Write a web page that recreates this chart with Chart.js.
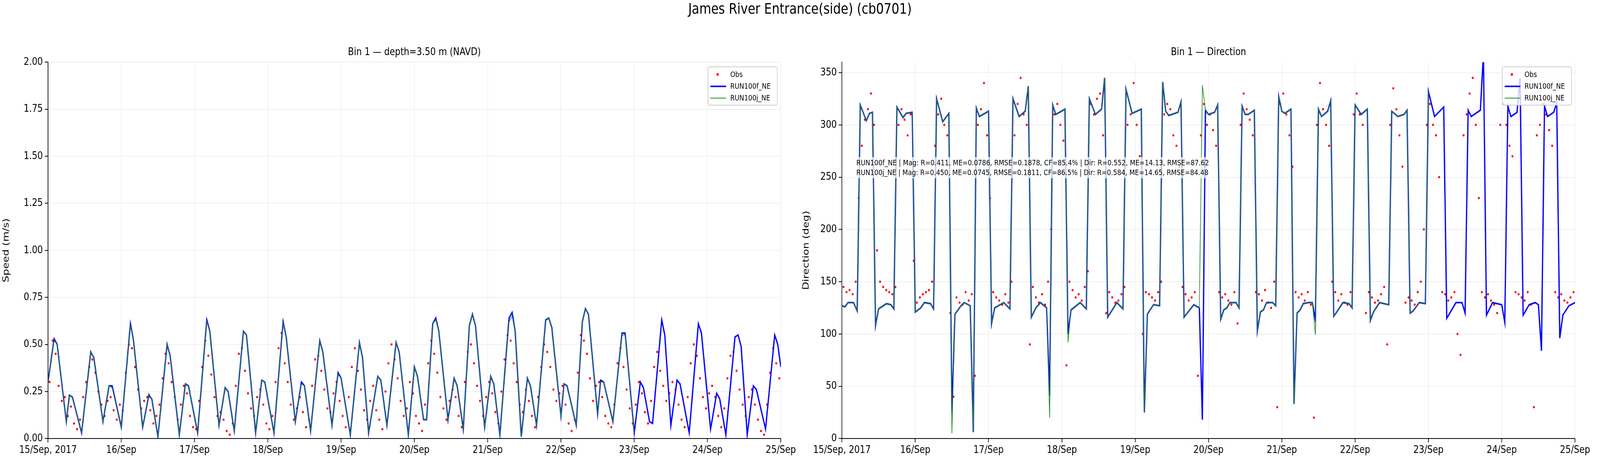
<!DOCTYPE html>
<html>
<head>
<meta charset="utf-8">
<script src="https://cdn.jsdelivr.net/npm/chart.js@4.4.0/dist/chart.umd.min.js"></script>
<style>
  html, body { margin: 0; padding: 0; overflow: hidden; background: #fff; font-family: "DejaVu Sans", sans-serif; }
  #page { position: absolute; left: 0; top: 0; width: 5000px; height: 1200px; transform-origin: 0 0; }
  canvas { position: absolute; top: 0; }
  .title { position: absolute; text-align: center; color: #000; white-space: nowrap; }
  .legend { position: absolute; width: 218px; height: 100px; border: 2px solid #ccc; border-radius: 6px; background: rgba(255,255,255,0.8); font-size: 20px; box-sizing: border-box; }
  .legend .row { position: absolute; left: 0; height: 30px; width: 100%; }
  .legend .lbl { position: absolute; left: 68px; top: 3px; }
  .stats { position: absolute; left: 2672px; top: 402px; font-size: 20px; line-height: 25px; background: rgba(255,255,255,0.7); padding: 2px 4px; white-space: pre; }
</style>
</head>
<body>
<div id="page">
<div class="title" style="left:0;width:5000px;top:0px;font-size:38px;">James River Entrance(side) (cb0701)</div>
<div class="title" style="left:150px;width:2290px;top:116px;font-size:27px;">Bin 1 — depth=3.50 m (NAVD)</div>
<div class="title" style="left:2631px;width:2291px;top:116px;font-size:27px;">Bin 1 — Direction</div>
<canvas id="speedChart" width="2500" height="1200" style="left:0"></canvas>
<canvas id="dirChart" width="2500" height="1200" style="left:2500px"></canvas>
<div class="stats">RUN100f_NE | Mag: R=0.411, ME=0.0786, RMSE=0.1878, CF=85.4% | Dir: R=0.552, ME=14.13, RMSE=87.62
RUN100j_NE | Mag: R=0.450, ME=0.0745, RMSE=0.1811, CF=86.5% | Dir: R=0.584, ME=14.65, RMSE=84.48</div>
<div class="legend" style="left:2212px;top:170px;">
  <div class="row" style="top:3px"><span style="position:absolute;left:25px;top:12px;width:7px;height:7px;border-radius:50%;background:#f00"></span><span class="lbl">Obs</span></div>
  <div class="row" style="top:33px"><span style="position:absolute;left:6px;top:14px;width:49px;height:4px;background:#00f"></span><span class="lbl">RUN100f_NE</span></div>
  <div class="row" style="top:63px"><span style="position:absolute;left:6px;top:15px;width:49px;height:2px;background:#228b22"></span><span class="lbl">RUN100j_NE</span></div>
</div>
<div class="legend" style="left:4694px;top:170px;">
  <div class="row" style="top:3px"><span style="position:absolute;left:25px;top:12px;width:7px;height:7px;border-radius:50%;background:#f00"></span><span class="lbl">Obs</span></div>
  <div class="row" style="top:33px"><span style="position:absolute;left:6px;top:14px;width:49px;height:4px;background:#00f"></span><span class="lbl">RUN100f_NE</span></div>
  <div class="row" style="top:63px"><span style="position:absolute;left:6px;top:15px;width:49px;height:2px;background:#228b22"></span><span class="lbl">RUN100j_NE</span></div>
</div>
</div>
<script>
// fit the 5000x1200 layout to the css viewport we actually get
const scaleX = window.innerWidth / 5000
const scaleY = window.innerHeight / 1200
document.getElementById('page').style.transform = `scale(${scaleX}, ${scaleY})`

// hours since 15/Sep 2017 00:00
const dayLabels = ['15/Sep, 2017', '16/Sep', '17/Sep', '18/Sep', '19/Sep', '20/Sep', '21/Sep', '22/Sep', '23/Sep', '24/Sep', '25/Sep']
const speedTicks = [0, 0.25, 0.5, 0.75, 1, 1.25, 1.5, 1.75, 2]
const dirTicks = [0, 50, 100, 150, 200, 250, 300, 350]

const speedTimes = [0,2,3,6,7,8,11,14,15,18,20,21,24,27,28,31,33,34,36,39,40,43,45,46,49,52,53,56,58,59,61,64,65,68,70,71,74,77,78,81,83,84,86,89,90,93,95,96,99,102,103,105,108,109,111,114,115,118,120,121,123,124,126,127,128,131,133,134,136,138,139,140,143,145,146,148,151,152,153,155,157,158,160,163,164,165,168,169,170,173,175,176,177,180,181,182,185,188,189,192,194,195,197,198,201,202,204,206,207,210,213,214,217,219,220,222,225,226,227,229,231,232,235,238,239,240]
const speedF = [0.30,0.53,0.50,0.09,0.23,0.22,0.03,0.46,0.43,0.09,0.28,0.28,0.06,0.61,0.52,0.06,0.23,0.21,0.01,0.50,0.44,0.02,0.29,0.28,0.03,0.63,0.57,0.07,0.27,0.25,0.04,0.57,0.55,0.03,0.31,0.30,0.03,0.62,0.54,0.09,0.30,0.28,0.04,0.52,0.46,0.07,0.35,0.32,0.02,0.51,0.43,0.03,0.33,0.31,0.07,0.51,0.46,0.02,0.38,0.33,0.10,0.10,0.61,0.64,0.57,0.10,0.32,0.28,0.05,0.60,0.66,0.60,0.06,0.33,0.29,0.02,0.64,0.67,0.57,0.01,0.32,0.28,0.07,0.63,0.64,0.59,0.12,0.29,0.28,0.07,0.62,0.69,0.66,0.13,0.31,0.30,0.09,0.56,0.56,0.03,0.30,0.27,0.09,0.08,0.63,0.55,0.07,0.31,0.29,0.03,0.61,0.56,0.05,0.24,0.21,0.02,0.54,0.55,0.49,0.02,0.28,0.26,0.05,0.55,0.50,0.38]
const speedJ = [0.30,0.52,0.50,0.09,0.23,0.22,0.03,0.46,0.43,0.09,0.28,0.27,0.06,0.60,0.52,0.06,0.24,0.21,0.01,0.50,0.44,0.02,0.29,0.28,0.03,0.62,0.57,0.07,0.27,0.25,0.04,0.57,0.55,0.03,0.31,0.30,0.03,0.61,0.54,0.09,0.29,0.28,0.04,0.52,0.46,0.07,0.34,0.32,0.02,0.51,0.43,0.03,0.33,0.31,0.07,0.51,0.46,0.02,0.38,0.33,0.10,0.10,0.61,0.63,0.57,0.10,0.32,0.28,0.05,0.60,0.66,0.60,0.06,0.33,0.29,0.02,0.62,0.65,0.57,0.01,0.32,0.28,0.07,0.63,0.64,0.59,0.12,0.29,0.28,0.07,0.62,0.69,0.66,0.13,0.30,0.30,0.09,0.55,0.55,0.03]

const dirTimes = [0,1,2,3.8,5,6,8,9,10,11,12,14.6,16,17,18,20,21,23,24,25.8,27,29,30,31,33,35,36,37,39,40,42,43,44,45,48,49,50,53,55,56,58,60,61,62,63.5,65,67,68,69,70,73,74,75,78,80,81,83,85,86,87,90,92,93,95,98,99,100,102,104,105,106,107,110,111,112,115.2,117,118,119,120,122,123,124,125,126,127,129,130,131,132,133,135,136,137,138,139,141,142,143,144,145,147,148,149,150,151,152.6,154,155,156,157,159,160,161,162,164,166,167,168,170,172,173,174,176,179,180,182,184,185,186,187,189,191,192,194,195,197,198,199,201,203,204,205,206,209,210,211,213,216,217,218,219,221,222,223,225,227,228,229,230,231,233,234,235,236,238,240]
const dirF = [127,126,130,130,122,319,304,311,312,108,124,129,128,124,317,307,311,312,121,125,130,129,124,325,303,311,25,119,127,130,127,6,316,308,313,110,125,130,124,325,308,313,337,116,125,130,125,41,319,310,315,100,123,130,124,325,310,315,345,116,130,124,334,311,315,25,119,128,127,341,313,309,312,322,116,128,125,18,314,310,312,319,114,123,125,130,130,125,318,310,310,314,103,121,123,130,130,127,327,313,311,315,33,120,123,129,130,130,113,315,308,313,323,117,121,130,129,125,319,310,315,113,121,130,128,313,308,310,314,120,122,130,129,332,308,311,317,115,120,130,130,120,314,308,314,368,118,130,128,111,318,308,312,345,118,128,130,128,84,318,308,312,321,96,118,127,130]
const dirJ = [127,126,130,130,122,319,304,311,312,108,124,129,128,124,317,307,311,312,121,125,130,129,124,325,303,311,5,119,127,130,127,6,316,308,313,110,125,130,124,325,308,313,337,116,125,130,125,20,319,310,315,92,123,130,124,325,310,315,345,116,130,124,334,311,315,25,119,128,127,341,313,309,312,322,116,128,125,338,314,310,312,319,114,123,125,130,130,125,318,310,310,314,103,121,123,130,130,127,327,313,311,315,33,120,123,129,130,130,99,315,308,313,323,117,121,130,129,125,319,310,315,113,121,130,128,313,308,310,314,120,122,130,129,332]

// observations, hourly at hh:30
const obsSpeed = [
  0.30,0.52,0.45,0.28,0.20,0.22,0.12,0.17,0.08,0.05,0.10,0.22,
  0.30,0.38,0.42,0.35,0.25,0.18,0.12,0.20,0.22,0.15,0.10,0.18,
  0.15,0.35,0.50,0.48,0.38,0.26,0.16,0.20,0.22,0.15,0.08,0.12,
  0.18,0.32,0.45,0.40,0.30,0.22,0.10,0.18,0.28,0.24,0.12,0.06,
  0.05,0.20,0.38,0.52,0.44,0.34,0.22,0.12,0.14,0.10,0.04,0.02,
  0.08,0.28,0.45,0.48,0.36,0.24,0.16,0.12,0.22,0.26,0.18,0.08,
  0.05,0.12,0.30,0.48,0.56,0.40,0.30,0.18,0.10,0.16,0.22,0.14,
  0.06,0.10,0.28,0.42,0.44,0.36,0.26,0.16,0.14,0.24,0.30,0.20,
  0.12,0.06,0.22,0.38,0.48,0.36,0.26,0.15,0.10,0.20,0.28,0.15,
  0.10,0.05,0.25,0.40,0.50,0.42,0.32,0.20,0.12,0.16,0.30,0.24,
  0.12,0.08,0.04,0.18,0.40,0.52,0.45,0.35,0.22,0.16,0.10,0.20,
  0.26,0.22,0.12,0.06,0.30,0.46,0.50,0.40,0.28,0.20,0.12,0.22,
  0.30,0.24,0.14,0.08,0.25,0.42,0.55,0.52,0.40,0.30,0.18,0.14,
  0.26,0.20,0.12,0.06,0.22,0.38,0.50,0.46,0.38,0.26,0.20,0.24,
  0.28,0.18,0.08,0.04,0.10,0.35,0.55,0.52,0.45,0.32,0.20,0.28,
  0.30,0.22,0.12,0.08,0.06,0.18,0.40,0.48,0.38,0.26,0.16,0.08,
  0.18,0.30,0.24,0.14,0.08,0.20,0.38,0.46,0.36,0.28,0.20,0.24,
  0.30,0.26,0.18,0.10,0.06,0.22,0.40,0.50,0.44,0.32,0.22,0.16,
  0.24,0.28,0.22,0.12,0.06,0.16,0.32,0.44,0.46,0.36,0.26,0.18,
  0.12,0.22,0.26,0.18,0.10,0.04,0.02,0.18,0.35,0.48,0.40,0.32]
const obsDir = [
  145,140,142,138,150,230,280,305,315,330,300,180,
  150,145,142,140,138,145,300,315,305,290,310,170,
  130,135,138,140,142,150,280,310,325,300,290,120,
  40,135,130,128,140,132,138,60,300,315,340,290,
  230,140,135,132,128,138,130,150,290,320,345,310,
  300,90,145,135,130,138,128,150,200,310,320,300,
  285,70,150,142,135,138,132,145,160,320,310,325,
  330,290,120,140,135,130,132,138,145,300,310,340,
  300,270,100,140,138,135,132,140,150,310,320,315,
  290,280,260,145,138,132,135,140,60,290,320,300,
  310,295,280,140,135,138,132,128,140,110,300,330,
  315,305,290,140,138,132,142,130,125,150,30,320,
  330,310,290,260,140,135,138,132,140,128,20,300,
  340,315,300,280,150,140,132,138,130,128,140,310,
  330,310,300,120,140,135,130,132,138,145,90,300,
  335,315,290,260,130,135,132,128,140,150,200,300,
  320,300,290,250,140,138,132,135,140,100,80,290,
  310,330,345,300,230,140,135,138,132,128,120,300,
  320,300,280,270,140,138,135,132,140,128,30,290,
  300,320,310,295,280,140,135,138,132,130,135,140]

const pts = (times, vals) => vals.map((v, i) => ({ x: times[i], y: v }))
const obsPts = vals => vals.map((v, i) => ({ x: i + 0.5, y: v }))

const tickFont = { family: 'DejaVu Sans', size: 27 }

function makeChart(id, obs, f, fTimes, j, yMin, yMax, yTicks, yTitle, yWidth, padRight, fmt) {
  return new Chart(document.getElementById(id), {
    type: 'line',
    data: {
      datasets: [
        { label: 'RUN100j_NE', data: pts(fTimes, j), borderColor: '#228b22', borderWidth: 2, pointRadius: 0, order: 0 },
        { label: 'RUN100f_NE', data: pts(fTimes, f), borderColor: '#0000ff', borderWidth: 4, pointRadius: 0, order: 1 },
        { label: 'Obs', data: obsPts(obs), showLine: false, pointRadius: 3, pointBorderWidth: 0, backgroundColor: '#ff0000', borderColor: '#ff0000', order: 2 }
      ]
    },
    options: {
      responsive: false,
      animation: false,
      devicePixelRatio: (window.devicePixelRatio || 1) * Math.max(scaleX, scaleY),
      layout: { padding: { top: 159, right: padRight, bottom: 0, left: 0 } },
      plugins: { legend: { display: false }, tooltip: { enabled: false } },
      scales: {
        x: {
          type: 'linear', min: 0, max: 240,
          afterFit: s => { s.height = 78 },
          afterBuildTicks: s => { s.ticks = dayLabels.map((_, i) => ({ value: i * 24 })) },
          grid: { color: '#ebebeb', lineWidth: 1.5, tickColor: '#000', tickLength: 10, tickWidth: 2 },
          border: { color: '#000', width: 2 },
          ticks: { color: '#000', font: tickFont, maxRotation: 0, autoSkip: false, padding: 4,
                   callback: v => dayLabels[Math.round(v / 24)] }
        },
        y: {
          min: yMin, max: yMax,
          afterFit: s => { s.width = yWidth },
          afterBuildTicks: s => { s.ticks = yTicks.map(v => ({ value: v })) },
          grid: { color: '#ebebeb', lineWidth: 1.5, tickColor: '#000', tickLength: 10, tickWidth: 2 },
          border: { color: '#000', width: 2 },
          ticks: { color: '#000', font: tickFont, padding: 6, callback: fmt },
          title: { display: true, text: yTitle, color: '#000', font: tickFont, padding: 4 }
        }
      }
    }
  })
}

makeChart('speedChart', obsSpeed, speedF, speedTimes, speedJ, 0, 2, speedTicks, 'Speed (m/s)', 150, 60, v => v.toFixed(2))
makeChart('dirChart', obsDir, dirF, dirTimes, dirJ, 0, 360, dirTicks, 'Direction (deg)', 131, 78, v => String(v))
</script>
</body>
</html>
